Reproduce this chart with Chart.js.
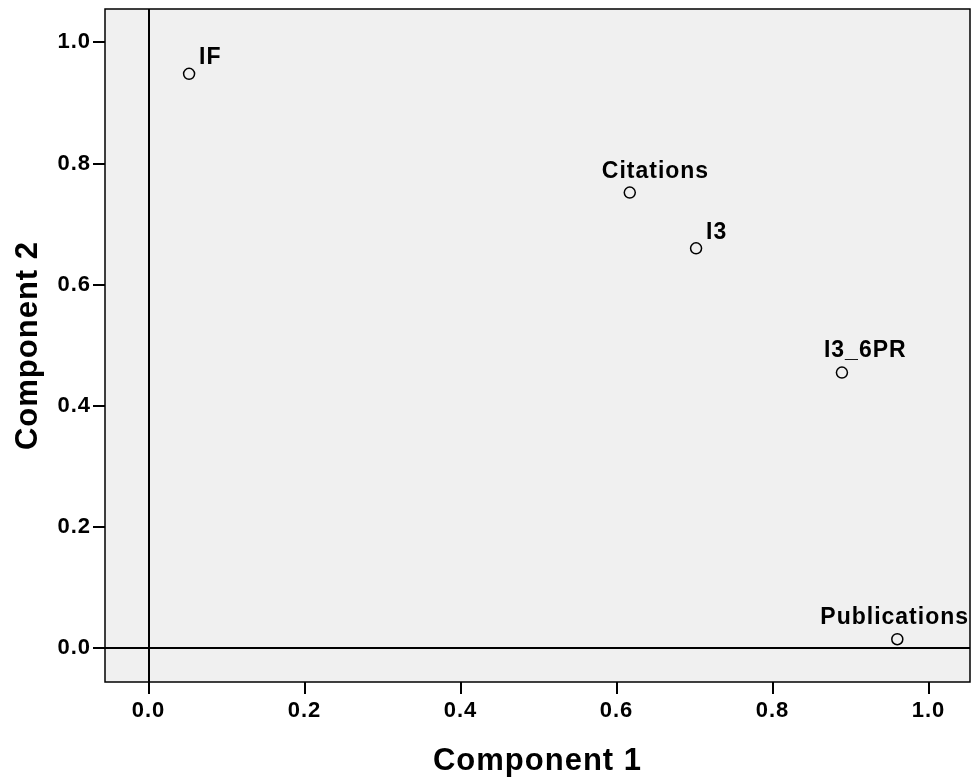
<!DOCTYPE html>
<html>
<head>
<meta charset="utf-8">
<script src="https://cdn.jsdelivr.net/npm/chart.js@4/dist/chart.umd.min.js"></script>
<style>
  html, body { margin: 0; padding: 0; background: #fff; }
  #wrap { width: 971px; height: 780px; }
</style>
</head>
<body>
<div id="wrap"><canvas id="componentPlot"></canvas></div>
<script>
// component loadings
const variables = ["IF", "Citations", "I3", "I3_6PR", "Publications"];
const component1 = [0.052, 0.617, 0.702, 0.889, 0.960];
const component2 = [0.948, 0.752, 0.660, 0.455, 0.015];
const tickValues = [0.0, 0.2, 0.4, 0.6, 0.8, 1.0];

// where each label sits relative to its marker (px)
const labelOffsets = {
  "IF": [10, -10],
  "Citations": [-28, -15],
  "I3": [10, -9],
  "I3_6PR": [-18, -16],
  "Publications": [-77, -15],
};

const FONT = "'Liberation Sans', Arial, sans-serif";

const frame = {
  id: "frame",
  beforeDraw(chart) {
    const { ctx, chartArea: a } = chart;
    // SPSS text is a bit wider than plain Arial
    if ("letterSpacing" in ctx) ctx.letterSpacing = "1px";
    ctx.save();
    ctx.fillStyle = "#f0f0f0";
    ctx.fillRect(a.left, a.top, a.right - a.left, a.bottom - a.top);
    ctx.restore();
  },
  afterDatasetsDraw(chart) {
    const { ctx, chartArea: a } = chart;
    const meta = chart.getDatasetMeta(0);
    ctx.save();
    ctx.font = "bold 23px " + FONT;
    ctx.fillStyle = "#000";
    ctx.textBaseline = "alphabetic";
    ctx.textAlign = "left";
    meta.data.forEach((pt, i) => {
      const off = labelOffsets[variables[i]] || [8, -8];
      ctx.fillText(variables[i], pt.x + off[0], pt.y + off[1]);
    });
    ctx.restore();
    ctx.save();
    ctx.strokeStyle = "#000";
    ctx.lineWidth = 1.5;
    ctx.strokeRect(a.left, a.top, a.right - a.left, a.bottom - a.top);
    ctx.restore();
  },
};

const tickFont = { family: FONT, size: 22, weight: "bold" };
const titleFont = { family: FONT, size: 31, weight: "bold" };

new Chart(document.getElementById("componentPlot"), {
  type: "scatter",
  data: {
    datasets: [{
      data: variables.map((v, i) => ({ x: component1[i], y: component2[i] })),
      pointRadius: 5.5,
      pointHoverRadius: 5.5,
      pointBorderWidth: 1.5,
      pointBorderColor: "#000",
      pointBackgroundColor: "rgba(0,0,0,0)",
    }],
  },
  options: {
    responsive: true,
    maintainAspectRatio: false,
    animation: false,
    events: [],
    layout: { autoPadding: false, padding: { top: 9, right: 1, left: 0, bottom: 0 } },
    plugins: { legend: { display: false }, tooltip: { enabled: false } },
    scales: {
      x: {
        type: "linear",
        min: -0.0558,
        max: 1.0532,
        afterBuildTicks: (s) => { s.ticks = tickValues.map((v) => ({ value: v })); },
        afterFit: (s) => { s.height = 98; s.paddingLeft = 0; s.paddingRight = 0; },
        ticks: {
          includeBounds: false,
          color: "#000",
          font: tickFont,
          padding: 4,
          callback: (v) => Number(v).toFixed(1),
        },
        grid: {
          color: (c) => (c.tick && c.tick.value === 0 ? "#000" : "rgba(0,0,0,0)"),
          lineWidth: 2,
          tickColor: "#000",
          tickLength: 12,
          tickWidth: 2,
        },
        border: { display: false },
        title: {
          display: true,
          text: "Component 1",
          color: "#000",
          font: titleFont,
          padding: { top: 12, bottom: 0 },
        },
      },
      y: {
        type: "linear",
        min: -0.0556,
        max: 1.055,
        afterBuildTicks: (s) => { s.ticks = tickValues.map((v) => ({ value: v })); },
        afterFit: (s) => { s.width = 105; s.paddingTop = 0; s.paddingBottom = 0; },
        ticks: {
          includeBounds: false,
          color: "#000",
          font: tickFont,
          padding: 2,
          callback: (v) => Number(v).toFixed(1),
        },
        grid: {
          color: (c) => (c.tick && c.tick.value === 0 ? "#000" : "rgba(0,0,0,0)"),
          lineWidth: 2,
          tickColor: "#000",
          tickLength: 12,
          tickWidth: 2,
        },
        border: { display: false },
        title: {
          display: true,
          text: "Component 2",
          color: "#000",
          font: titleFont,
          padding: { top: 10, bottom: 0 },
        },
      },
    },
  },
  plugins: [frame],
});
</script>
</body>
</html>
